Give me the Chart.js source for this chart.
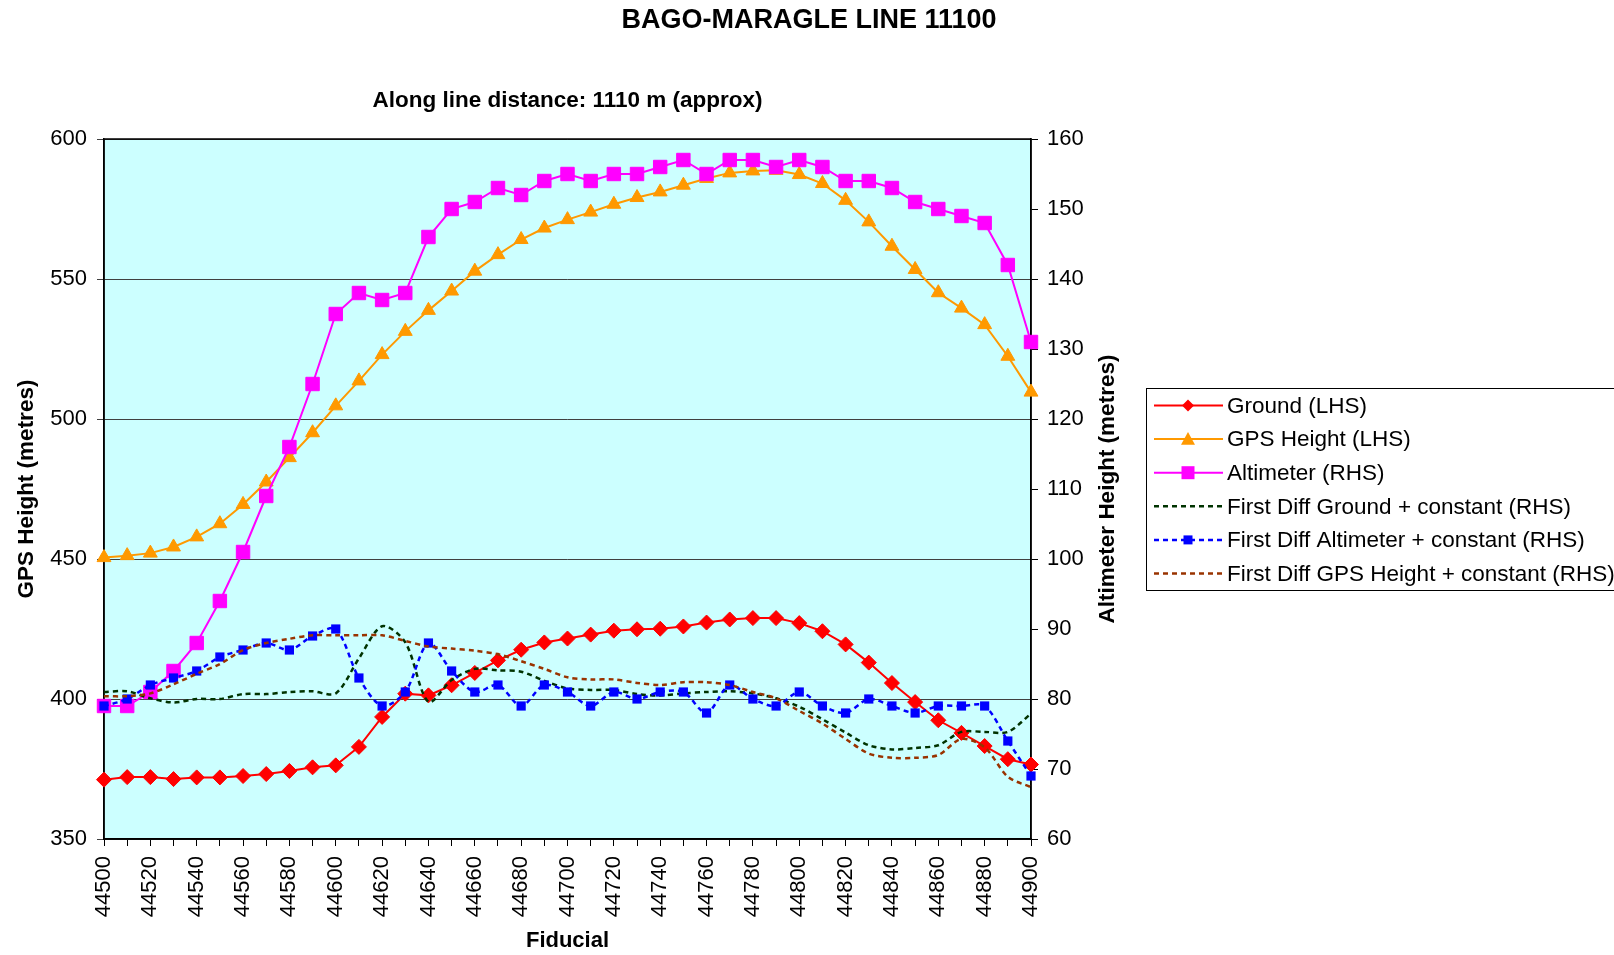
<!DOCTYPE html>
<html>
<head>
<meta charset="utf-8">
<title>BAGO-MARAGLE LINE 11100</title>
<script src="https://cdn.jsdelivr.net/npm/chart.js@4.4.0/dist/chart.umd.min.js"></script>
<style>
  html, body { margin: 0; padding: 0; background: #fff; overflow: hidden; }
  canvas { display: block; }
</style>
</head>
<body>
<canvas id="lineChart" width="1614" height="955"></canvas>
<script>
// Fiducials along the line
const fiducials = [44500, 44510, 44520, 44530, 44540, 44550, 44560, 44570, 44580, 44590,
    44600, 44610, 44620, 44630, 44640, 44650, 44660, 44670, 44680, 44690,
    44700, 44710, 44720, 44730, 44740, 44750, 44760, 44770, 44780, 44790,
    44800, 44810, 44820, 44830, 44840, 44850, 44860, 44870, 44880, 44890, 44900];

// LHS series (metres)
const ground = [371.2, 372.1, 372.1, 371.4, 372, 372, 372.5, 373.2, 374.3, 375.6,
    376.3, 382.9, 393.6, 401.9, 401.3, 404.9, 409.3, 413.8, 417.6, 420.2,
    421.6, 423, 424.4, 424.9, 425.1, 425.9, 427.3, 428.4, 428.9, 428.9,
    427.1, 424.2, 419.5, 413, 405.7, 398.9, 392.4, 387.9, 383.2, 378.5, 376.6];
const gpsHeight = [450.5, 451.2, 452.1, 454.3, 457.9, 462.6, 469.5, 477.5, 486.2, 495.1,
    504.7, 513.6, 523, 531.3, 538.8, 545.7, 552.8, 558.7, 564.1, 568.2,
    571.2, 573.9, 576.7, 579.1, 581.1, 583.5, 585.9, 587.9, 588.6, 588.8,
    587.3, 584.1, 578.1, 570.4, 561.7, 553.4, 545.1, 539.6, 533.7, 522.4, 509.6];

// RHS series (metres)
const altimeter = [79, 79, 81, 84, 88, 94, 101, 109, 116, 125,
    135, 138, 137, 138, 146, 150, 151, 153, 152, 154,
    155, 154, 155, 155, 156, 157, 155, 157, 157, 156,
    157, 156, 154, 154, 153, 151, 150, 149, 148, 142, 131];
const diffGround = [81, 81.1, 80.1, 79.5, 80, 80, 80.7, 80.7, 81, 81.1,
    80.8, 85.8, 90.4, 88.1, 79.6, 82.7, 84.3, 84.1, 83.9, 82.6,
    81.5, 81.3, 81.3, 80.7, 80.5, 80.8, 81, 81.1, 80.8, 80.1,
    78.9, 77.1, 75.2, 73.4, 72.8, 73, 73.4, 75.3, 75.3, 75.3, 77.9];
const diffAltimeter = [79, 80, 82, 83, 84, 86, 87, 88, 87, 89,
    90, 83, 79, 81, 88, 84, 81, 82, 79, 82,
    81, 79, 81, 80, 81, 81, 78, 82, 80, 79,
    81, 79, 78, 80, 79, 78, 79, 79, 79, 74, 69];
const diffGps = [80.4, 80.4, 80.8, 82.1, 83.6, 85, 87, 88, 88.6, 89.1,
    89.1, 89.1, 89.1, 88.3, 87.5, 87.2, 86.9, 86.4, 85.4, 84.3,
    83.1, 82.8, 82.8, 82.3, 82, 82.4, 82.4, 82, 81, 80.1,
    78.3, 76.5, 74.3, 72.2, 71.6, 71.6, 72, 74.3, 73.1, 68.9, 67.4];

const FONT = '"Liberation Sans", Arial, Helvetica, sans-serif';
Chart.defaults.font.family = FONT;
Chart.defaults.color = '#000';

// small marker drawer for the legend
function drawMarker(ctx, style, x, y, r, color) {
    ctx.save();
    ctx.setLineDash([]);
    ctx.fillStyle = color;
    ctx.beginPath();
    if (style === 'rectRot') {
        ctx.moveTo(x, y - r); ctx.lineTo(x + r, y); ctx.lineTo(x, y + r); ctx.lineTo(x - r, y);
    } else if (style === 'triangle') {
        ctx.moveTo(x, y - r); ctx.lineTo(x + r, y + r * 0.8); ctx.lineTo(x - r, y + r * 0.8);
    } else {
        ctx.rect(x - r, y - r, r * 2, r * 2);
    }
    ctx.closePath();
    ctx.fill();
    ctx.restore();
}

const framePlugin = {
    id: 'frame',
    beforeDraw(chart) {
        const {ctx, chartArea: a} = chart;
        ctx.save();
        ctx.fillStyle = '#fff';
        ctx.fillRect(0, 0, chart.width, chart.height);
        ctx.fillStyle = '#CCFFFF';
        ctx.fillRect(a.left, a.top, a.right - a.left, a.bottom - a.top);
        ctx.restore();
    },
    beforeDatasetsDraw(chart) {
        const {ctx, chartArea: a} = chart;
        ctx.save();
        ctx.strokeStyle = '#000';
        ctx.lineWidth = 1.5;
        ctx.strokeRect(a.left, a.top, a.right - a.left, a.bottom - a.top);
        ctx.restore();
    },
    afterDraw(chart) {
        const {ctx, chartArea: a} = chart;
        ctx.save();
        ctx.fillStyle = '#000';
        ctx.textAlign = 'center';
        ctx.textBaseline = 'middle';

        // titles
        ctx.font = 'bold 27px ' + FONT;
        ctx.fillText('BAGO-MARAGLE LINE 11100', chart.width / 2 + 2, 21);
        ctx.font = 'bold 22.5px ' + FONT;
        ctx.fillText('Along line distance: 1110 m (approx)', (a.left + a.right) / 2, 101);

        // y axis titles (both read bottom to top)
        const midY = (a.top + a.bottom) / 2;
        [[27, 'GPS Height (metres)'], [1108, 'Altimeter Height (metres)']].forEach(([x, txt]) => {
            ctx.save();
            ctx.translate(x, midY);
            ctx.rotate(-Math.PI / 2);
            ctx.fillText(txt, 0, 0);
            ctx.restore();
        });

        // legend
        const lx = 1146, ly = 388;
        ctx.strokeStyle = '#000';
        ctx.lineWidth = 1;
        ctx.strokeRect(lx + 0.5, ly + 0.5, 600, 202);
        ctx.font = '22.5px ' + FONT;
        ctx.textAlign = 'left';
        chart.data.datasets.forEach((ds, i) => {
            const y = 405.5 + i * 33.6;
            ctx.save();
            ctx.strokeStyle = ds.borderColor;
            ctx.lineWidth = ds.borderWidth;
            ctx.setLineDash(ds.borderDash || []);
            ctx.beginPath();
            ctx.moveTo(1154, y);
            ctx.lineTo(1223, y);
            ctx.stroke();
            ctx.restore();
            if (ds.legendMarker) {
                drawMarker(ctx, ds.pointStyle, 1188, y, ds.legendMarker, ds.borderColor);
            }
            ctx.fillStyle = '#000';
            ctx.fillText(ds.label, 1227, y + 1);
        });
        ctx.restore();
    }
};

const solid = (label, data, color, style, radius, legendMarker, axis) => ({
    label, data, yAxisID: axis,
    borderColor: color, backgroundColor: color,
    pointBackgroundColor: color, pointBorderColor: color,
    borderWidth: 2, pointStyle: style, pointRadius: radius, pointBorderWidth: 1,
    tension: 0, clip: false, legendMarker
});

const dashed = (label, data, color, style, radius, legendMarker) => ({
    label, data, yAxisID: 'yR',
    borderColor: color, backgroundColor: color,
    pointBackgroundColor: color, pointBorderColor: color,
    borderWidth: 2.5, borderDash: [5, 4],
    pointStyle: style, pointRadius: radius, pointBorderWidth: 0,
    tension: 0.3, clip: false, legendMarker
});

const datasets = [
    solid('Ground (LHS)', ground, '#FF0000', 'rectRot', 7.5, 6, 'yL'),
    solid('GPS Height (LHS)', gpsHeight, '#FF9900', 'triangle', 8, 7, 'yL'),
    solid('Altimeter (RHS)', altimeter, '#FF00FF', 'rect', 9.5, 6.5, 'yR'),
    dashed('First Diff Ground + constant (RHS)', diffGround, '#003300', 'circle', 0, 0),
    dashed('First Diff Altimeter + constant (RHS)', diffAltimeter, '#0000FF', 'rect', 6.5, 4.5),
    dashed('First Diff GPS Height + constant (RHS)', diffGps, '#993300', 'circle', 0, 0)
];
// later series drawn on top, as in the original
datasets.forEach((ds, i) => { ds.order = datasets.length - i; });

new Chart(document.getElementById('lineChart').getContext('2d'), {
    type: 'line',
    data: { labels: fiducials.map(String), datasets },
    options: {
        responsive: false,
        animation: false,
        events: [],
        layout: { padding: { top: 139, right: 483, bottom: 0, left: 0 } },
        plugins: {
            legend: { display: false },
            tooltip: { enabled: false },
            title: { display: false }
        },
        scales: {
            x: {
                type: 'category',
                offset: false,
                grid: { drawOnChartArea: false, drawTicks: true, tickLength: 7, color: '#000' },
                border: { display: true, color: '#000', width: 1.5 },
                ticks: {
                    autoSkip: false,
                    minRotation: 90,
                    maxRotation: 90,
                    padding: 10,
                    font: { size: 22 },
                    callback: function(val, idx) {
                        return idx % 2 === 0 ? this.getLabelForValue(val) : '';
                    }
                },
                title: { display: true, text: 'Fiducial', font: { size: 22, weight: 'bold' }, padding: { top: 0, bottom: 1 } },
                afterFit(scale) { scale.height = 116; }
            },
            yL: {
                position: 'left',
                min: 350,
                max: 600,
                grid: { color: '#404040', lineWidth: 1, tickLength: 7 },
                border: { display: true, color: '#000', width: 1.5 },
                ticks: { stepSize: 50, padding: 10, font: { size: 22 } },
                afterFit(scale) { scale.width = 104; }
            },
            yR: {
                position: 'right',
                min: 60,
                max: 160,
                grid: { drawOnChartArea: false, tickLength: 7, color: '#000' },
                border: { display: true, color: '#000', width: 1.5 },
                ticks: { stepSize: 10, padding: 9, font: { size: 22 } },
                afterFit(scale) { scale.width = 100; }
            }
        }
    },
    plugins: [framePlugin]
});
</script>
</body>
</html>
